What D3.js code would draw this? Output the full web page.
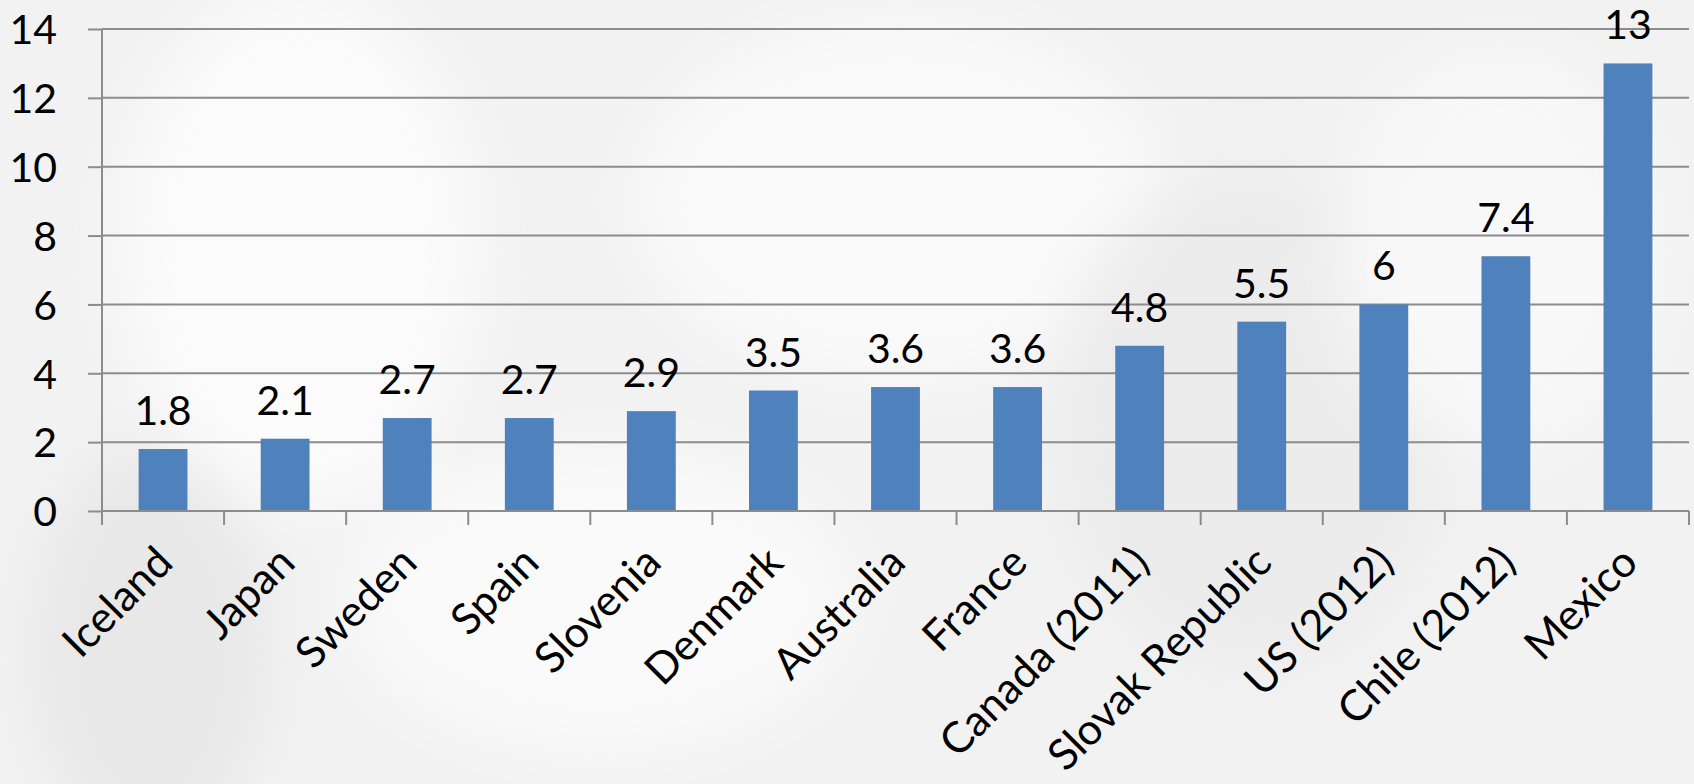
<!DOCTYPE html>
<html><head><meta charset="utf-8">
<script src="https://cdn.jsdelivr.net/npm/d3@7"></script>
<style>html,body{margin:0;padding:0;background:#f3f3f3;overflow:hidden}</style>
</head><body>
<script>
const categories = ["Iceland","Japan","Sweden","Spain","Slovenia","Denmark","Australia","France","Canada (2011)","Slovak Republic","US (2012)","Chile (2012)","Mexico"];
const values = [1.8,2.1,2.7,2.7,2.9,3.5,3.6,3.6,4.8,5.5,6,7.4,13];
const yTicks = [0,2,4,6,8,10,12,14];

const W = 1694, H = 784;
const m = {left:102, right:5, top:29, bottom:273};
const svg = d3.select("body").append("svg").attr("width",W).attr("height",H);

// soft background texture
const defs = svg.append("defs");
const f = defs.append("filter").attr("id","blur").attr("x","-50%").attr("y","-50%").attr("width","200%").attr("height","200%");
f.append("feGaussianBlur").attr("stdDeviation",30);
svg.append("rect").attr("width",W).attr("height",H).attr("fill","#f2f2f2");
const blobs = svg.append("g").attr("filter","url(#blur)");
[[300,250,180,260,"#fbfbfb"],[900,200,260,180,"#fafafa"],[1250,420,200,250,"#ececec"],[600,600,250,150,"#fafafa"],[150,650,120,200,"#e8e8e8"],[1500,250,160,200,"#f8f8f8"]]
 .forEach(b=>blobs.append("ellipse").attr("cx",b[0]).attr("cy",b[1]).attr("rx",b[2]).attr("ry",b[3]).attr("fill",b[4]));

const x = d3.scaleBand().domain(categories).range([m.left, W-m.right]).padding(0);
const y = d3.scaleLinear().domain([0,14]).range([H-m.bottom, m.top]);

const font = "Lato, 'Open Sans', sans-serif";
const gridC = "#8c8c8c";

// gridlines
svg.append("g").selectAll("line").data(yTicks.filter(d=>d>0)).join("line")
  .attr("x1",m.left).attr("x2",W-m.right).attr("y1",d=>y(d)).attr("y2",d=>y(d))
  .attr("stroke",gridC).attr("stroke-width",2);

// bars
const bw = x.bandwidth()*0.4;
svg.append("g").selectAll("rect").data(values).join("rect")
  .attr("x",(d,i)=>x(categories[i])+x.bandwidth()/2-bw/2)
  .attr("y",d=>y(d)).attr("width",bw).attr("height",d=>y(0)-y(d))
  .attr("fill","#4f81bd");

// value labels
svg.append("g").selectAll("text").data(values).join("text")
  .attr("x",(d,i)=>x(categories[i])+x.bandwidth()/2)
  .attr("y",d=>y(d)-24)
  .attr("text-anchor","middle").attr("font-family",font).attr("font-size",41).attr("fill","#000")
  .text(d=>d);

// y axis
const yAxis = svg.append("g").attr("transform",`translate(${m.left},0)`)
  .call(d3.axisLeft(y).tickValues(yTicks).tickSize(14).tickPadding(31).tickFormat(d3.format("d")));
yAxis.selectAll("line, path").attr("stroke",gridC).attr("stroke-width",2);
yAxis.select("path").attr("d",`M0,${y(0)}V${y(14)}`);
yAxis.selectAll("text").attr("font-family",font).attr("font-size",41).attr("fill","#000").attr("dy","0.36em");

// x axis
const xAxis = svg.append("g").attr("transform",`translate(0,${y(0)})`)
  .call(d3.axisBottom(x).tickSize(0).tickFormat(""));
xAxis.select("path").attr("d",`M${m.left},0H${W-m.right}`).attr("stroke",gridC).attr("stroke-width",2);
xAxis.selectAll(".tick").remove();
const bounds = d3.range(categories.length+1).map(i=>m.left + i*x.step());
xAxis.append("g").selectAll("line").data(bounds).join("line")
  .attr("x1",d=>d).attr("x2",d=>d).attr("y1",0).attr("y2",14)
  .attr("stroke",gridC).attr("stroke-width",2);

// category labels
svg.append("g").selectAll("text").data(categories).join("text")
  .attr("transform",d=>`translate(${x(d)+x.bandwidth()/2+12},${y(0)+54}) rotate(-45)`)
  .attr("text-anchor","end").attr("font-family",font).attr("font-size",43).attr("fill","#000")
  .text(d=>d);
</script>
</body></html>
